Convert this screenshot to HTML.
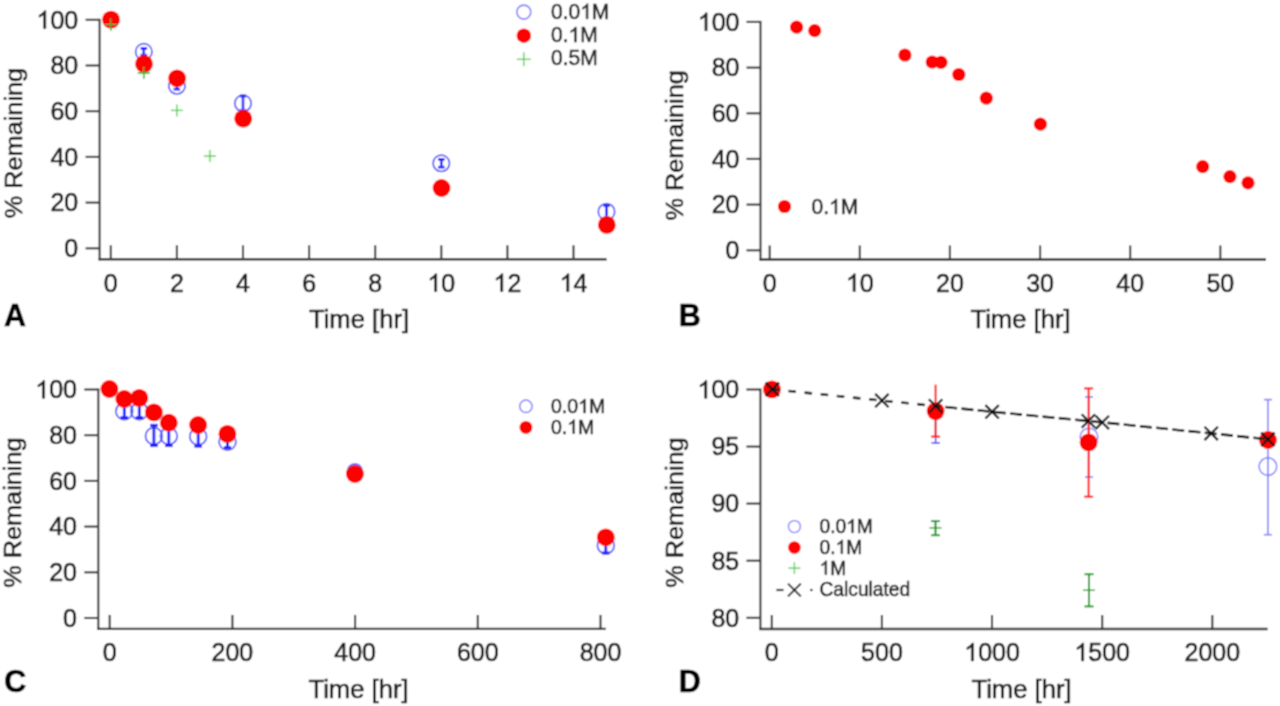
<!DOCTYPE html>
<html><head><meta charset="utf-8"><style>
html,body{margin:0;padding:0;background:#fff;width:1280px;height:706px;overflow:hidden}
svg{display:block}
text{font-family:"Liberation Sans", sans-serif;stroke:currentColor;stroke-width:0.6px}
</style></head><body>
<svg width="1280" height="706" viewBox="0 0 1280 706">
<defs><filter id="bl" x="0" y="0" width="1280" height="706" filterUnits="userSpaceOnUse"><feConvolveMatrix order="3" kernelMatrix="1 2 1 2 4 2 1 2 1" edgeMode="duplicate"/></filter></defs>
<g filter="url(#bl)">
<rect width="1280" height="706" fill="#fff"/>
<line x1="99.6" y1="18.8" x2="99.6" y2="260.3" stroke="#353535" stroke-width="2.1" />
<line x1="98.6" y1="259.3" x2="606.6" y2="259.3" stroke="#353535" stroke-width="2.4" />
<line x1="85.6" y1="248.3" x2="99.6" y2="248.3" stroke="#353535" stroke-width="2.1" />
<text transform="translate(78.20,257.15) scale(1,1.04)" font-size="25" text-anchor="end" fill="#1c1c1c" color="#1c1c1c" font-weight="normal" >0</text>
<line x1="85.6" y1="202.6" x2="99.6" y2="202.6" stroke="#353535" stroke-width="2.1" />
<text transform="translate(78.20,211.44) scale(1,1.04)" font-size="25" text-anchor="end" fill="#1c1c1c" color="#1c1c1c" font-weight="normal" >20</text>
<line x1="85.6" y1="156.9" x2="99.6" y2="156.9" stroke="#353535" stroke-width="2.1" />
<text transform="translate(78.20,165.73) scale(1,1.04)" font-size="25" text-anchor="end" fill="#1c1c1c" color="#1c1c1c" font-weight="normal" >40</text>
<line x1="85.6" y1="111.2" x2="99.6" y2="111.2" stroke="#353535" stroke-width="2.1" />
<text transform="translate(78.20,120.02) scale(1,1.04)" font-size="25" text-anchor="end" fill="#1c1c1c" color="#1c1c1c" font-weight="normal" >60</text>
<line x1="85.6" y1="65.5" x2="99.6" y2="65.5" stroke="#353535" stroke-width="2.1" />
<text transform="translate(78.20,74.31) scale(1,1.04)" font-size="25" text-anchor="end" fill="#1c1c1c" color="#1c1c1c" font-weight="normal" >80</text>
<line x1="85.6" y1="19.8" x2="99.6" y2="19.8" stroke="#353535" stroke-width="2.1" />
<text transform="translate(78.20,28.60) scale(1,1.04)" font-size="25" text-anchor="end" fill="#1c1c1c" color="#1c1c1c" font-weight="normal" > 00</text>
<path transform="translate(36.49,28.60) scale(0.01221,-0.01221)" d="M763,0L583,0L583,1147Q518,1085,412.5,1023Q307,961,222,929L222,1103Q373,1174,486,1275Q599,1376,647,1466L763,1466Z" fill="#1c1c1c" stroke="#1c1c1c" stroke-width="49.2"/>
<line x1="110.8" y1="245.3" x2="110.8" y2="259.3" stroke="#353535" stroke-width="2.1" />
<text transform="translate(110.80,291.60) scale(1,1.04)" font-size="25" text-anchor="middle" fill="#1c1c1c" color="#1c1c1c" font-weight="normal" >0</text>
<line x1="176.9" y1="245.3" x2="176.9" y2="259.3" stroke="#353535" stroke-width="2.1" />
<text transform="translate(176.90,291.60) scale(1,1.04)" font-size="25" text-anchor="middle" fill="#1c1c1c" color="#1c1c1c" font-weight="normal" >2</text>
<line x1="243.0" y1="245.3" x2="243.0" y2="259.3" stroke="#353535" stroke-width="2.1" />
<text transform="translate(243.00,291.60) scale(1,1.04)" font-size="25" text-anchor="middle" fill="#1c1c1c" color="#1c1c1c" font-weight="normal" >4</text>
<line x1="309.1" y1="245.3" x2="309.1" y2="259.3" stroke="#353535" stroke-width="2.1" />
<text transform="translate(309.10,291.60) scale(1,1.04)" font-size="25" text-anchor="middle" fill="#1c1c1c" color="#1c1c1c" font-weight="normal" >6</text>
<line x1="375.2" y1="245.3" x2="375.2" y2="259.3" stroke="#353535" stroke-width="2.1" />
<text transform="translate(375.20,291.60) scale(1,1.04)" font-size="25" text-anchor="middle" fill="#1c1c1c" color="#1c1c1c" font-weight="normal" >8</text>
<line x1="441.3" y1="245.3" x2="441.3" y2="259.3" stroke="#353535" stroke-width="2.1" />
<text transform="translate(441.30,291.60) scale(1,1.04)" font-size="25" text-anchor="middle" fill="#1c1c1c" color="#1c1c1c" font-weight="normal" > 0</text>
<path transform="translate(427.40,291.60) scale(0.01221,-0.01221)" d="M763,0L583,0L583,1147Q518,1085,412.5,1023Q307,961,222,929L222,1103Q373,1174,486,1275Q599,1376,647,1466L763,1466Z" fill="#1c1c1c" stroke="#1c1c1c" stroke-width="49.2"/>
<line x1="507.4" y1="245.3" x2="507.4" y2="259.3" stroke="#353535" stroke-width="2.1" />
<text transform="translate(507.40,291.60) scale(1,1.04)" font-size="25" text-anchor="middle" fill="#1c1c1c" color="#1c1c1c" font-weight="normal" > 2</text>
<path transform="translate(493.50,291.60) scale(0.01221,-0.01221)" d="M763,0L583,0L583,1147Q518,1085,412.5,1023Q307,961,222,929L222,1103Q373,1174,486,1275Q599,1376,647,1466L763,1466Z" fill="#1c1c1c" stroke="#1c1c1c" stroke-width="49.2"/>
<line x1="573.5" y1="245.3" x2="573.5" y2="259.3" stroke="#353535" stroke-width="2.1" />
<text transform="translate(573.50,291.60) scale(1,1.04)" font-size="25" text-anchor="middle" fill="#1c1c1c" color="#1c1c1c" font-weight="normal" > 4</text>
<path transform="translate(559.60,291.60) scale(0.01221,-0.01221)" d="M763,0L583,0L583,1147Q518,1085,412.5,1023Q307,961,222,929L222,1103Q373,1174,486,1275Q599,1376,647,1466L763,1466Z" fill="#1c1c1c" stroke="#1c1c1c" stroke-width="49.2"/>
<text transform="translate(309.00,327.70) scale(1,1.04)" font-size="25.6" text-anchor="start" fill="#1c1c1c" color="#1c1c1c" font-weight="normal" >Time [hr]</text>
<text x="0" y="0" font-size="25.3" fill="#1c1c1c" color="#1c1c1c" transform="translate(21.6,218.2) rotate(-90) scale(1,0.98)">% Remaining</text>
<circle cx="143.8" cy="51.8" r="8.2" fill="none" stroke="#5050ff" stroke-width="1.7"/>
<line x1="143.8" y1="48.4" x2="143.8" y2="55.2" stroke="#2020ff" stroke-width="2.6" />
<line x1="140.6" y1="48.4" x2="147.1" y2="48.4" stroke="#2020ff" stroke-width="2.6" />
<line x1="140.6" y1="55.2" x2="147.1" y2="55.2" stroke="#2020ff" stroke-width="2.6" />
<circle cx="176.9" cy="85.8" r="8.2" fill="none" stroke="#5050ff" stroke-width="1.7"/>
<line x1="176.9" y1="82.4" x2="176.9" y2="89.2" stroke="#2020ff" stroke-width="2.6" />
<line x1="173.6" y1="82.4" x2="180.1" y2="82.4" stroke="#2020ff" stroke-width="2.6" />
<line x1="173.6" y1="89.2" x2="180.1" y2="89.2" stroke="#2020ff" stroke-width="2.6" />
<circle cx="243.0" cy="103.3" r="8.2" fill="none" stroke="#5050ff" stroke-width="1.7"/>
<line x1="243.0" y1="96.0" x2="243.0" y2="110.6" stroke="#2020ff" stroke-width="2.6" />
<line x1="239.8" y1="96.0" x2="246.2" y2="96.0" stroke="#2020ff" stroke-width="2.6" />
<line x1="239.8" y1="110.6" x2="246.2" y2="110.6" stroke="#2020ff" stroke-width="2.6" />
<circle cx="441.3" cy="163.3" r="8.2" fill="none" stroke="#5050ff" stroke-width="1.7"/>
<line x1="441.3" y1="159.4" x2="441.3" y2="167.2" stroke="#2020ff" stroke-width="2.6" />
<line x1="438.1" y1="159.4" x2="444.6" y2="159.4" stroke="#2020ff" stroke-width="2.6" />
<line x1="438.1" y1="167.2" x2="444.6" y2="167.2" stroke="#2020ff" stroke-width="2.6" />
<circle cx="606.5" cy="211.7" r="8.2" fill="none" stroke="#5050ff" stroke-width="1.7"/>
<line x1="606.5" y1="205.5" x2="606.5" y2="217.9" stroke="#2020ff" stroke-width="2.6" />
<line x1="603.3" y1="205.5" x2="609.8" y2="205.5" stroke="#2020ff" stroke-width="2.6" />
<line x1="603.3" y1="217.9" x2="609.8" y2="217.9" stroke="#2020ff" stroke-width="2.6" />
<line x1="104.8" y1="24.6" x2="116.8" y2="24.6" stroke="#44cc44" stroke-width="1.3" />
<line x1="110.8" y1="18.6" x2="110.8" y2="30.6" stroke="#44cc44" stroke-width="1.3" />
<line x1="137.8" y1="73.0" x2="149.8" y2="73.0" stroke="#44cc44" stroke-width="1.3" />
<line x1="143.8" y1="67.0" x2="143.8" y2="79.0" stroke="#44cc44" stroke-width="1.3" />
<line x1="170.9" y1="110.4" x2="182.9" y2="110.4" stroke="#44cc44" stroke-width="1.3" />
<line x1="176.9" y1="104.4" x2="176.9" y2="116.4" stroke="#44cc44" stroke-width="1.3" />
<line x1="203.9" y1="156.1" x2="215.9" y2="156.1" stroke="#44cc44" stroke-width="1.3" />
<line x1="209.9" y1="150.1" x2="209.9" y2="162.1" stroke="#44cc44" stroke-width="1.3" />
<circle cx="111.0" cy="19.6" r="8.9" fill="#ff0000"/>
<circle cx="144.0" cy="63.9" r="8.9" fill="#ff0000"/>
<circle cx="177.1" cy="78.3" r="8.9" fill="#ff0000"/>
<circle cx="243.2" cy="118.6" r="8.9" fill="#ff0000"/>
<circle cx="441.5" cy="188.0" r="8.9" fill="#ff0000"/>
<circle cx="606.8" cy="224.9" r="8.9" fill="#ff0000"/>
<line x1="104.8" y1="24.6" x2="116.8" y2="24.6" stroke="#3cb43c" stroke-width="1.3" />
<line x1="110.8" y1="18.6" x2="110.8" y2="30.6" stroke="#3cb43c" stroke-width="1.3" />
<line x1="137.8" y1="73.0" x2="149.8" y2="73.0" stroke="#3cb43c" stroke-width="1.3" />
<line x1="143.8" y1="67.0" x2="143.8" y2="79.0" stroke="#3cb43c" stroke-width="1.3" />
<circle cx="523.8" cy="12.1" r="7.0" fill="none" stroke="#7f7fff" stroke-width="1.6"/>
<circle cx="523.8" cy="35.7" r="7.2" fill="#ff0000"/>
<line x1="516.8" y1="59.3" x2="530.8" y2="59.3" stroke="#44cc44" stroke-width="1.3" />
<line x1="523.8" y1="52.3" x2="523.8" y2="66.3" stroke="#44cc44" stroke-width="1.3" />
<text transform="translate(551.00,18.80) scale(1,1.04)" font-size="21" text-anchor="start" fill="#2a2a2a" color="#2a2a2a" font-weight="normal" >0.0 M</text>
<path transform="translate(580.19,18.80) scale(0.01025,-0.01025)" d="M763,0L583,0L583,1147Q518,1085,412.5,1023Q307,961,222,929L222,1103Q373,1174,486,1275Q599,1376,647,1466L763,1466Z" fill="#2a2a2a" stroke="#2a2a2a" stroke-width="58.5"/>
<text transform="translate(551.00,42.10) scale(1,1.04)" font-size="21" text-anchor="start" fill="#2a2a2a" color="#2a2a2a" font-weight="normal" >0. M</text>
<path transform="translate(568.51,42.10) scale(0.01025,-0.01025)" d="M763,0L583,0L583,1147Q518,1085,412.5,1023Q307,961,222,929L222,1103Q373,1174,486,1275Q599,1376,647,1466L763,1466Z" fill="#2a2a2a" stroke="#2a2a2a" stroke-width="58.5"/>
<text transform="translate(551.00,65.40) scale(1,1.04)" font-size="21" text-anchor="start" fill="#2a2a2a" color="#2a2a2a" font-weight="normal" >0.5M</text>
<text transform="translate(4.00,325.50) scale(1,1.0)" font-size="30.5" text-anchor="start" fill="#000" color="#000" font-weight="bold" >A</text>
<line x1="760.5" y1="20.9" x2="760.5" y2="260.5" stroke="#353535" stroke-width="2.1" />
<line x1="759.5" y1="259.5" x2="1266.0" y2="259.5" stroke="#353535" stroke-width="2.4" />
<line x1="746.5" y1="250.3" x2="760.5" y2="250.3" stroke="#353535" stroke-width="2.1" />
<text transform="translate(739.50,259.10) scale(1,1.04)" font-size="25" text-anchor="end" fill="#1c1c1c" color="#1c1c1c" font-weight="normal" >0</text>
<line x1="746.5" y1="204.6" x2="760.5" y2="204.6" stroke="#353535" stroke-width="2.1" />
<text transform="translate(739.50,213.42) scale(1,1.04)" font-size="25" text-anchor="end" fill="#1c1c1c" color="#1c1c1c" font-weight="normal" >20</text>
<line x1="746.5" y1="158.9" x2="760.5" y2="158.9" stroke="#353535" stroke-width="2.1" />
<text transform="translate(739.50,167.74) scale(1,1.04)" font-size="25" text-anchor="end" fill="#1c1c1c" color="#1c1c1c" font-weight="normal" >40</text>
<line x1="746.5" y1="113.3" x2="760.5" y2="113.3" stroke="#353535" stroke-width="2.1" />
<text transform="translate(739.50,122.06) scale(1,1.04)" font-size="25" text-anchor="end" fill="#1c1c1c" color="#1c1c1c" font-weight="normal" >60</text>
<line x1="746.5" y1="67.6" x2="760.5" y2="67.6" stroke="#353535" stroke-width="2.1" />
<text transform="translate(739.50,76.38) scale(1,1.04)" font-size="25" text-anchor="end" fill="#1c1c1c" color="#1c1c1c" font-weight="normal" >80</text>
<line x1="746.5" y1="21.9" x2="760.5" y2="21.9" stroke="#353535" stroke-width="2.1" />
<text transform="translate(739.50,30.70) scale(1,1.04)" font-size="25" text-anchor="end" fill="#1c1c1c" color="#1c1c1c" font-weight="normal" > 00</text>
<path transform="translate(697.79,30.70) scale(0.01221,-0.01221)" d="M763,0L583,0L583,1147Q518,1085,412.5,1023Q307,961,222,929L222,1103Q373,1174,486,1275Q599,1376,647,1466L763,1466Z" fill="#1c1c1c" stroke="#1c1c1c" stroke-width="49.2"/>
<line x1="769.7" y1="245.5" x2="769.7" y2="259.5" stroke="#353535" stroke-width="2.1" />
<text transform="translate(769.70,291.60) scale(1,1.04)" font-size="25" text-anchor="middle" fill="#1c1c1c" color="#1c1c1c" font-weight="normal" >0</text>
<line x1="859.8" y1="245.5" x2="859.8" y2="259.5" stroke="#353535" stroke-width="2.1" />
<text transform="translate(859.82,291.60) scale(1,1.04)" font-size="25" text-anchor="middle" fill="#1c1c1c" color="#1c1c1c" font-weight="normal" > 0</text>
<path transform="translate(845.92,291.60) scale(0.01221,-0.01221)" d="M763,0L583,0L583,1147Q518,1085,412.5,1023Q307,961,222,929L222,1103Q373,1174,486,1275Q599,1376,647,1466L763,1466Z" fill="#1c1c1c" stroke="#1c1c1c" stroke-width="49.2"/>
<line x1="949.9" y1="245.5" x2="949.9" y2="259.5" stroke="#353535" stroke-width="2.1" />
<text transform="translate(949.94,291.60) scale(1,1.04)" font-size="25" text-anchor="middle" fill="#1c1c1c" color="#1c1c1c" font-weight="normal" >20</text>
<line x1="1040.1" y1="245.5" x2="1040.1" y2="259.5" stroke="#353535" stroke-width="2.1" />
<text transform="translate(1040.06,291.60) scale(1,1.04)" font-size="25" text-anchor="middle" fill="#1c1c1c" color="#1c1c1c" font-weight="normal" >30</text>
<line x1="1130.2" y1="245.5" x2="1130.2" y2="259.5" stroke="#353535" stroke-width="2.1" />
<text transform="translate(1130.18,291.60) scale(1,1.04)" font-size="25" text-anchor="middle" fill="#1c1c1c" color="#1c1c1c" font-weight="normal" >40</text>
<line x1="1220.3" y1="245.5" x2="1220.3" y2="259.5" stroke="#353535" stroke-width="2.1" />
<text transform="translate(1220.30,291.60) scale(1,1.04)" font-size="25" text-anchor="middle" fill="#1c1c1c" color="#1c1c1c" font-weight="normal" >50</text>
<text transform="translate(970.50,327.70) scale(1,1.04)" font-size="25.6" text-anchor="start" fill="#1c1c1c" color="#1c1c1c" font-weight="normal" >Time [hr]</text>
<text x="0" y="0" font-size="25.3" fill="#1c1c1c" color="#1c1c1c" transform="translate(682.5,220.5) rotate(-90) scale(1,0.98)">% Remaining</text>
<circle cx="796.6" cy="27.2" r="6.6" fill="#ff0000"/>
<circle cx="814.7" cy="30.7" r="6.6" fill="#ff0000"/>
<circle cx="904.9" cy="55.0" r="6.6" fill="#ff0000"/>
<circle cx="932.2" cy="62.0" r="6.6" fill="#ff0000"/>
<circle cx="941.0" cy="62.3" r="6.6" fill="#ff0000"/>
<circle cx="958.8" cy="74.5" r="6.6" fill="#ff0000"/>
<circle cx="986.3" cy="98.2" r="6.6" fill="#ff0000"/>
<circle cx="1040.4" cy="124.2" r="6.6" fill="#ff0000"/>
<circle cx="1202.7" cy="166.7" r="6.6" fill="#ff0000"/>
<circle cx="1229.9" cy="176.6" r="6.6" fill="#ff0000"/>
<circle cx="1248.0" cy="182.8" r="6.6" fill="#ff0000"/>
<circle cx="784.5" cy="206.5" r="6.6" fill="#ff0000"/>
<text transform="translate(811.50,214.00) scale(1,1.04)" font-size="21" text-anchor="start" fill="#2a2a2a" color="#2a2a2a" font-weight="normal" >0. M</text>
<path transform="translate(829.01,214.00) scale(0.01025,-0.01025)" d="M763,0L583,0L583,1147Q518,1085,412.5,1023Q307,961,222,929L222,1103Q373,1174,486,1275Q599,1376,647,1466L763,1466Z" fill="#2a2a2a" stroke="#2a2a2a" stroke-width="58.5"/>
<text transform="translate(678.80,325.50) scale(1,1.0)" font-size="30.5" text-anchor="start" fill="#000" color="#000" font-weight="bold" >B</text>
<line x1="98.3" y1="388.5" x2="98.3" y2="629.9" stroke="#353535" stroke-width="2.1" />
<line x1="97.3" y1="628.9" x2="605.8" y2="628.9" stroke="#353535" stroke-width="2.4" />
<line x1="84.3" y1="618.0" x2="98.3" y2="618.0" stroke="#353535" stroke-width="2.1" />
<text transform="translate(77.00,626.80) scale(1,1.04)" font-size="25" text-anchor="end" fill="#1c1c1c" color="#1c1c1c" font-weight="normal" >0</text>
<line x1="84.3" y1="572.3" x2="98.3" y2="572.3" stroke="#353535" stroke-width="2.1" />
<text transform="translate(77.00,581.10) scale(1,1.04)" font-size="25" text-anchor="end" fill="#1c1c1c" color="#1c1c1c" font-weight="normal" >20</text>
<line x1="84.3" y1="526.6" x2="98.3" y2="526.6" stroke="#353535" stroke-width="2.1" />
<text transform="translate(77.00,535.40) scale(1,1.04)" font-size="25" text-anchor="end" fill="#1c1c1c" color="#1c1c1c" font-weight="normal" >40</text>
<line x1="84.3" y1="480.9" x2="98.3" y2="480.9" stroke="#353535" stroke-width="2.1" />
<text transform="translate(77.00,489.70) scale(1,1.04)" font-size="25" text-anchor="end" fill="#1c1c1c" color="#1c1c1c" font-weight="normal" >60</text>
<line x1="84.3" y1="435.2" x2="98.3" y2="435.2" stroke="#353535" stroke-width="2.1" />
<text transform="translate(77.00,444.00) scale(1,1.04)" font-size="25" text-anchor="end" fill="#1c1c1c" color="#1c1c1c" font-weight="normal" >80</text>
<line x1="84.3" y1="389.5" x2="98.3" y2="389.5" stroke="#353535" stroke-width="2.1" />
<text transform="translate(77.00,398.30) scale(1,1.04)" font-size="25" text-anchor="end" fill="#1c1c1c" color="#1c1c1c" font-weight="normal" > 00</text>
<path transform="translate(35.29,398.30) scale(0.01221,-0.01221)" d="M763,0L583,0L583,1147Q518,1085,412.5,1023Q307,961,222,929L222,1103Q373,1174,486,1275Q599,1376,647,1466L763,1466Z" fill="#1c1c1c" stroke="#1c1c1c" stroke-width="49.2"/>
<line x1="109.7" y1="614.9" x2="109.7" y2="628.9" stroke="#353535" stroke-width="2.1" />
<text transform="translate(109.70,660.90) scale(1,1.04)" font-size="25" text-anchor="middle" fill="#1c1c1c" color="#1c1c1c" font-weight="normal" >0</text>
<line x1="232.4" y1="614.9" x2="232.4" y2="628.9" stroke="#353535" stroke-width="2.1" />
<text transform="translate(232.40,660.90) scale(1,1.04)" font-size="25" text-anchor="middle" fill="#1c1c1c" color="#1c1c1c" font-weight="normal" >200</text>
<line x1="355.1" y1="614.9" x2="355.1" y2="628.9" stroke="#353535" stroke-width="2.1" />
<text transform="translate(355.10,660.90) scale(1,1.04)" font-size="25" text-anchor="middle" fill="#1c1c1c" color="#1c1c1c" font-weight="normal" >400</text>
<line x1="477.8" y1="614.9" x2="477.8" y2="628.9" stroke="#353535" stroke-width="2.1" />
<text transform="translate(477.80,660.90) scale(1,1.04)" font-size="25" text-anchor="middle" fill="#1c1c1c" color="#1c1c1c" font-weight="normal" >600</text>
<line x1="600.5" y1="614.9" x2="600.5" y2="628.9" stroke="#353535" stroke-width="2.1" />
<text transform="translate(600.50,660.90) scale(1,1.04)" font-size="25" text-anchor="middle" fill="#1c1c1c" color="#1c1c1c" font-weight="normal" >800</text>
<text transform="translate(308.50,697.90) scale(1,1.04)" font-size="25.6" text-anchor="start" fill="#1c1c1c" color="#1c1c1c" font-weight="normal" >Time [hr]</text>
<text x="0" y="0" font-size="25.3" fill="#1c1c1c" color="#1c1c1c" transform="translate(20.7,587.8) rotate(-90) scale(1,0.98)">% Remaining</text>
<circle cx="124.3" cy="411.3" r="8.4" fill="none" stroke="#5050ff" stroke-width="1.7"/>
<line x1="124.3" y1="404.5" x2="124.3" y2="417.6" stroke="#2020ff" stroke-width="2.9" />
<line x1="120.5" y1="404.5" x2="128.1" y2="404.5" stroke="#2020ff" stroke-width="2.9" />
<line x1="120.5" y1="417.6" x2="128.1" y2="417.6" stroke="#2020ff" stroke-width="2.9" />
<circle cx="139.3" cy="411.3" r="8.4" fill="none" stroke="#5050ff" stroke-width="1.7"/>
<line x1="139.3" y1="404.5" x2="139.3" y2="417.6" stroke="#2020ff" stroke-width="2.9" />
<line x1="135.6" y1="404.5" x2="143.1" y2="404.5" stroke="#2020ff" stroke-width="2.9" />
<line x1="135.6" y1="417.6" x2="143.1" y2="417.6" stroke="#2020ff" stroke-width="2.9" />
<circle cx="153.9" cy="436.0" r="8.4" fill="none" stroke="#5050ff" stroke-width="1.7"/>
<line x1="153.9" y1="425.3" x2="153.9" y2="445.6" stroke="#2020ff" stroke-width="2.9" />
<line x1="150.2" y1="425.3" x2="157.7" y2="425.3" stroke="#2020ff" stroke-width="2.9" />
<line x1="150.2" y1="445.6" x2="157.7" y2="445.6" stroke="#2020ff" stroke-width="2.9" />
<circle cx="168.8" cy="436.0" r="8.4" fill="none" stroke="#5050ff" stroke-width="1.7"/>
<line x1="168.8" y1="426.4" x2="168.8" y2="445.6" stroke="#2020ff" stroke-width="2.9" />
<line x1="165.1" y1="426.4" x2="172.6" y2="426.4" stroke="#2020ff" stroke-width="2.9" />
<line x1="165.1" y1="445.6" x2="172.6" y2="445.6" stroke="#2020ff" stroke-width="2.9" />
<circle cx="198.2" cy="436.5" r="8.4" fill="none" stroke="#5050ff" stroke-width="1.7"/>
<line x1="198.2" y1="426.4" x2="198.2" y2="446.2" stroke="#2020ff" stroke-width="2.9" />
<line x1="194.4" y1="426.4" x2="201.9" y2="426.4" stroke="#2020ff" stroke-width="2.9" />
<line x1="194.4" y1="446.2" x2="201.9" y2="446.2" stroke="#2020ff" stroke-width="2.9" />
<circle cx="227.5" cy="441.8" r="8.4" fill="none" stroke="#5050ff" stroke-width="1.7"/>
<line x1="227.5" y1="436.0" x2="227.5" y2="447.6" stroke="#2020ff" stroke-width="2.9" />
<line x1="223.8" y1="436.0" x2="231.2" y2="436.0" stroke="#2020ff" stroke-width="2.9" />
<line x1="223.8" y1="447.6" x2="231.2" y2="447.6" stroke="#2020ff" stroke-width="2.9" />
<circle cx="354.9" cy="471.8" r="7.6" fill="none" stroke="#5050ff" stroke-width="1.7"/>
<circle cx="605.8" cy="545.5" r="8.4" fill="none" stroke="#5050ff" stroke-width="1.7"/>
<line x1="605.8" y1="541.0" x2="605.8" y2="553.0" stroke="#2020ff" stroke-width="2.9" />
<line x1="602.0" y1="541.0" x2="609.5" y2="541.0" stroke="#2020ff" stroke-width="2.9" />
<line x1="602.0" y1="553.0" x2="609.5" y2="553.0" stroke="#2020ff" stroke-width="2.9" />
<circle cx="109.4" cy="389.0" r="8.9" fill="#ff0000"/>
<circle cx="124.3" cy="399.0" r="8.9" fill="#ff0000"/>
<circle cx="139.3" cy="397.9" r="8.9" fill="#ff0000"/>
<circle cx="153.9" cy="412.4" r="8.9" fill="#ff0000"/>
<circle cx="168.8" cy="422.7" r="8.9" fill="#ff0000"/>
<circle cx="198.1" cy="425.0" r="8.9" fill="#ff0000"/>
<circle cx="227.4" cy="433.9" r="8.9" fill="#ff0000"/>
<circle cx="354.9" cy="474.0" r="8.9" fill="#ff0000"/>
<circle cx="605.8" cy="537.3" r="8.9" fill="#ff0000"/>
<circle cx="525.9" cy="406.3" r="6.2" fill="none" stroke="#7f7fff" stroke-width="1.5"/>
<circle cx="525.9" cy="427.4" r="6.4" fill="#ff0000"/>
<text transform="translate(551.00,413.00) scale(1,1.04)" font-size="19.5" text-anchor="start" fill="#2a2a2a" color="#2a2a2a" font-weight="normal" >0.0 M</text>
<path transform="translate(578.11,413.00) scale(0.00952,-0.00952)" d="M763,0L583,0L583,1147Q518,1085,412.5,1023Q307,961,222,929L222,1103Q373,1174,486,1275Q599,1376,647,1466L763,1466Z" fill="#2a2a2a" stroke="#2a2a2a" stroke-width="63.0"/>
<text transform="translate(551.00,433.60) scale(1,1.04)" font-size="19.5" text-anchor="start" fill="#2a2a2a" color="#2a2a2a" font-weight="normal" >0. M</text>
<path transform="translate(567.26,433.60) scale(0.00952,-0.00952)" d="M763,0L583,0L583,1147Q518,1085,412.5,1023Q307,961,222,929L222,1103Q373,1174,486,1275Q599,1376,647,1466L763,1466Z" fill="#2a2a2a" stroke="#2a2a2a" stroke-width="63.0"/>
<text transform="translate(4.30,691.90) scale(1,1.0)" font-size="30.5" text-anchor="start" fill="#000" color="#000" font-weight="bold" >C</text>
<line x1="760.4" y1="388.5" x2="760.4" y2="630.0" stroke="#353535" stroke-width="2.1" />
<line x1="759.4" y1="629.0" x2="1267.6" y2="629.0" stroke="#353535" stroke-width="2.4" />
<line x1="746.4" y1="617.8" x2="760.4" y2="617.8" stroke="#353535" stroke-width="2.1" />
<text transform="translate(739.20,626.60) scale(1,1.04)" font-size="25" text-anchor="end" fill="#1c1c1c" color="#1c1c1c" font-weight="normal" >80</text>
<line x1="746.4" y1="560.7" x2="760.4" y2="560.7" stroke="#353535" stroke-width="2.1" />
<text transform="translate(739.20,569.52) scale(1,1.04)" font-size="25" text-anchor="end" fill="#1c1c1c" color="#1c1c1c" font-weight="normal" >85</text>
<line x1="746.4" y1="503.6" x2="760.4" y2="503.6" stroke="#353535" stroke-width="2.1" />
<text transform="translate(739.20,512.45) scale(1,1.04)" font-size="25" text-anchor="end" fill="#1c1c1c" color="#1c1c1c" font-weight="normal" >90</text>
<line x1="746.4" y1="446.6" x2="760.4" y2="446.6" stroke="#353535" stroke-width="2.1" />
<text transform="translate(739.20,455.38) scale(1,1.04)" font-size="25" text-anchor="end" fill="#1c1c1c" color="#1c1c1c" font-weight="normal" >95</text>
<line x1="746.4" y1="389.5" x2="760.4" y2="389.5" stroke="#353535" stroke-width="2.1" />
<text transform="translate(739.20,398.30) scale(1,1.04)" font-size="25" text-anchor="end" fill="#1c1c1c" color="#1c1c1c" font-weight="normal" > 00</text>
<path transform="translate(697.49,398.30) scale(0.01221,-0.01221)" d="M763,0L583,0L583,1147Q518,1085,412.5,1023Q307,961,222,929L222,1103Q373,1174,486,1275Q599,1376,647,1466L763,1466Z" fill="#1c1c1c" stroke="#1c1c1c" stroke-width="49.2"/>
<line x1="771.8" y1="615.0" x2="771.8" y2="629.0" stroke="#353535" stroke-width="2.1" />
<text transform="translate(771.80,660.90) scale(1,1.04)" font-size="25" text-anchor="middle" fill="#1c1c1c" color="#1c1c1c" font-weight="normal" >0</text>
<line x1="881.9" y1="615.0" x2="881.9" y2="629.0" stroke="#353535" stroke-width="2.1" />
<text transform="translate(881.92,660.90) scale(1,1.04)" font-size="25" text-anchor="middle" fill="#1c1c1c" color="#1c1c1c" font-weight="normal" >500</text>
<line x1="992.0" y1="615.0" x2="992.0" y2="629.0" stroke="#353535" stroke-width="2.1" />
<text transform="translate(992.05,660.90) scale(1,1.04)" font-size="25" text-anchor="middle" fill="#1c1c1c" color="#1c1c1c" font-weight="normal" > 000</text>
<path transform="translate(964.24,660.90) scale(0.01221,-0.01221)" d="M763,0L583,0L583,1147Q518,1085,412.5,1023Q307,961,222,929L222,1103Q373,1174,486,1275Q599,1376,647,1466L763,1466Z" fill="#1c1c1c" stroke="#1c1c1c" stroke-width="49.2"/>
<line x1="1102.2" y1="615.0" x2="1102.2" y2="629.0" stroke="#353535" stroke-width="2.1" />
<text transform="translate(1102.17,660.90) scale(1,1.04)" font-size="25" text-anchor="middle" fill="#1c1c1c" color="#1c1c1c" font-weight="normal" > 500</text>
<path transform="translate(1074.37,660.90) scale(0.01221,-0.01221)" d="M763,0L583,0L583,1147Q518,1085,412.5,1023Q307,961,222,929L222,1103Q373,1174,486,1275Q599,1376,647,1466L763,1466Z" fill="#1c1c1c" stroke="#1c1c1c" stroke-width="49.2"/>
<line x1="1212.3" y1="615.0" x2="1212.3" y2="629.0" stroke="#353535" stroke-width="2.1" />
<text transform="translate(1212.30,660.90) scale(1,1.04)" font-size="25" text-anchor="middle" fill="#1c1c1c" color="#1c1c1c" font-weight="normal" >2000</text>
<text transform="translate(971.50,697.90) scale(1,1.04)" font-size="25.6" text-anchor="start" fill="#1c1c1c" color="#1c1c1c" font-weight="normal" >Time [hr]</text>
<text x="0" y="0" font-size="25.3" fill="#1c1c1c" color="#1c1c1c" transform="translate(682.7,587.7) rotate(-90) scale(1,0.98)">% Remaining</text>
<circle cx="1089.0" cy="437.0" r="8.8" fill="none" stroke="#7f7fff" stroke-width="1.5"/>
<line x1="1089.0" y1="396.9" x2="1089.0" y2="477.1" stroke="#7f7fff" stroke-width="1.6" />
<line x1="1085.0" y1="396.9" x2="1093.0" y2="396.9" stroke="#7f7fff" stroke-width="1.6" />
<line x1="1085.0" y1="477.1" x2="1093.0" y2="477.1" stroke="#7f7fff" stroke-width="1.6" />
<circle cx="1267.9" cy="466.6" r="8.8" fill="none" stroke="#7f7fff" stroke-width="1.5"/>
<line x1="1267.9" y1="399.6" x2="1267.9" y2="534.7" stroke="#7f7fff" stroke-width="1.6" />
<line x1="1263.9" y1="399.6" x2="1271.9" y2="399.6" stroke="#7f7fff" stroke-width="1.6" />
<line x1="1263.9" y1="534.7" x2="1271.9" y2="534.7" stroke="#7f7fff" stroke-width="1.6" />
<line x1="935.6" y1="411.0" x2="935.6" y2="443.0" stroke="#4b4bff" stroke-width="1.6" />
<line x1="931.4" y1="443.0" x2="939.9" y2="443.0" stroke="#4b4bff" stroke-width="1.6" />
<line x1="935.6" y1="384.6" x2="935.6" y2="436.6" stroke="#ff1010" stroke-width="2.0" />
<line x1="931.1" y1="436.6" x2="940.1" y2="436.6" stroke="#ff1010" stroke-width="2.0" />
<line x1="1088.6" y1="388.4" x2="1088.6" y2="496.7" stroke="#ff1010" stroke-width="2.0" />
<line x1="1084.1" y1="388.4" x2="1093.1" y2="388.4" stroke="#ff1010" stroke-width="2.0" />
<line x1="1084.1" y1="496.7" x2="1093.1" y2="496.7" stroke="#ff1010" stroke-width="2.0" />
<circle cx="771.9" cy="389.4" r="8.9" fill="#ff0000"/>
<circle cx="935.6" cy="411.1" r="8.9" fill="#ff0000"/>
<circle cx="1088.6" cy="442.4" r="8.9" fill="#ff0000"/>
<circle cx="1267.9" cy="440.0" r="8.9" fill="#ff0000"/>
<line x1="935.5" y1="521.1" x2="935.5" y2="535.2" stroke="#159c22" stroke-width="2.0" />
<line x1="931.0" y1="521.1" x2="940.0" y2="521.1" stroke="#159c22" stroke-width="2.0" />
<line x1="931.0" y1="535.2" x2="940.0" y2="535.2" stroke="#159c22" stroke-width="2.0" />
<line x1="929.5" y1="527.9" x2="941.5" y2="527.9" stroke="#159c22" stroke-width="1.3" />
<line x1="935.5" y1="521.9" x2="935.5" y2="533.9" stroke="#159c22" stroke-width="1.3" />
<line x1="1089.0" y1="574.2" x2="1089.0" y2="606.4" stroke="#159c22" stroke-width="2.0" />
<line x1="1084.5" y1="574.2" x2="1093.5" y2="574.2" stroke="#159c22" stroke-width="2.0" />
<line x1="1084.5" y1="606.4" x2="1093.5" y2="606.4" stroke="#159c22" stroke-width="2.0" />
<line x1="1083.0" y1="590.2" x2="1095.0" y2="590.2" stroke="#159c22" stroke-width="1.3" />
<line x1="1089.0" y1="584.2" x2="1089.0" y2="596.2" stroke="#159c22" stroke-width="1.3" />
<polyline points="772.3,389.3 881.9,400.6 935.6,406.0" fill="none" stroke="#202020" stroke-width="2.6" stroke-dasharray="7.6,8.6" stroke-dashoffset="0"/>
<polyline points="935.6,406.0 992.1,411.8 1088.4,421.0 1102.3,422.4 1211.2,433.4 1267.9,439.3" fill="none" stroke="#202020" stroke-width="2.6" stroke-dasharray="12,4.3" stroke-dashoffset="6.65"/>
<line x1="765.6" y1="382.6" x2="779.0" y2="396.0" stroke="#111111" stroke-width="2.3" />
<line x1="765.6" y1="396.0" x2="779.0" y2="382.6" stroke="#111111" stroke-width="2.3" />
<line x1="875.2" y1="393.9" x2="888.6" y2="407.3" stroke="#111111" stroke-width="2.3" />
<line x1="875.2" y1="407.3" x2="888.6" y2="393.9" stroke="#111111" stroke-width="2.3" />
<line x1="928.9" y1="399.3" x2="942.3" y2="412.7" stroke="#111111" stroke-width="2.3" />
<line x1="928.9" y1="412.7" x2="942.3" y2="399.3" stroke="#111111" stroke-width="2.3" />
<line x1="985.4" y1="405.1" x2="998.8" y2="418.5" stroke="#111111" stroke-width="2.3" />
<line x1="985.4" y1="418.5" x2="998.8" y2="405.1" stroke="#111111" stroke-width="2.3" />
<line x1="1081.7" y1="414.3" x2="1095.1" y2="427.7" stroke="#111111" stroke-width="2.3" />
<line x1="1081.7" y1="427.7" x2="1095.1" y2="414.3" stroke="#111111" stroke-width="2.3" />
<line x1="1095.6" y1="415.7" x2="1109.0" y2="429.1" stroke="#111111" stroke-width="2.3" />
<line x1="1095.6" y1="429.1" x2="1109.0" y2="415.7" stroke="#111111" stroke-width="2.3" />
<line x1="1204.5" y1="426.7" x2="1217.9" y2="440.1" stroke="#111111" stroke-width="2.3" />
<line x1="1204.5" y1="440.1" x2="1217.9" y2="426.7" stroke="#111111" stroke-width="2.3" />
<line x1="1261.2" y1="432.6" x2="1274.6" y2="446.0" stroke="#111111" stroke-width="2.3" />
<line x1="1261.2" y1="446.0" x2="1274.6" y2="432.6" stroke="#111111" stroke-width="2.3" />
<circle cx="794.4" cy="526.6" r="6.0" fill="none" stroke="#7f7fff" stroke-width="1.4"/>
<circle cx="794.4" cy="547.5" r="6.3" fill="#ff0000"/>
<line x1="788.4" y1="568.1" x2="800.4" y2="568.1" stroke="#44cc44" stroke-width="1.3" />
<line x1="794.4" y1="562.1" x2="794.4" y2="574.1" stroke="#44cc44" stroke-width="1.3" />
<line x1="776.4" y1="590.0" x2="783.5" y2="590.0" stroke="#2a2a2a" stroke-width="2.2" />
<line x1="788.0" y1="583.6" x2="800.8" y2="596.4" stroke="#1a1a1a" stroke-width="2" />
<line x1="788.0" y1="596.4" x2="800.8" y2="583.6" stroke="#1a1a1a" stroke-width="2" />
<line x1="810.0" y1="590.0" x2="812.5" y2="590.0" stroke="#2a2a2a" stroke-width="2.2" />
<text transform="translate(819.50,532.80) scale(1,1.04)" font-size="19.2" text-anchor="start" fill="#2a2a2a" color="#2a2a2a" font-weight="normal" >0.0 M</text>
<path transform="translate(846.19,532.80) scale(0.00937,-0.00937)" d="M763,0L583,0L583,1147Q518,1085,412.5,1023Q307,961,222,929L222,1103Q373,1174,486,1275Q599,1376,647,1466L763,1466Z" fill="#2a2a2a" stroke="#2a2a2a" stroke-width="64.0"/>
<text transform="translate(819.50,553.70) scale(1,1.04)" font-size="19.2" text-anchor="start" fill="#2a2a2a" color="#2a2a2a" font-weight="normal" >0. M</text>
<path transform="translate(835.51,553.70) scale(0.00937,-0.00937)" d="M763,0L583,0L583,1147Q518,1085,412.5,1023Q307,961,222,929L222,1103Q373,1174,486,1275Q599,1376,647,1466L763,1466Z" fill="#2a2a2a" stroke="#2a2a2a" stroke-width="64.0"/>
<text transform="translate(819.50,574.60) scale(1,1.04)" font-size="19.2" text-anchor="start" fill="#2a2a2a" color="#2a2a2a" font-weight="normal" > M</text>
<path transform="translate(819.50,574.60) scale(0.00937,-0.00937)" d="M763,0L583,0L583,1147Q518,1085,412.5,1023Q307,961,222,929L222,1103Q373,1174,486,1275Q599,1376,647,1466L763,1466Z" fill="#2a2a2a" stroke="#2a2a2a" stroke-width="64.0"/>
<text transform="translate(819.50,595.50) scale(1,1.04)" font-size="19.2" text-anchor="start" fill="#2a2a2a" color="#2a2a2a" font-weight="normal" >Calculated</text>
<text transform="translate(678.80,691.90) scale(1,1.0)" font-size="30.5" text-anchor="start" fill="#000" color="#000" font-weight="bold" >D</text>
</g>
</svg>
</body></html>
